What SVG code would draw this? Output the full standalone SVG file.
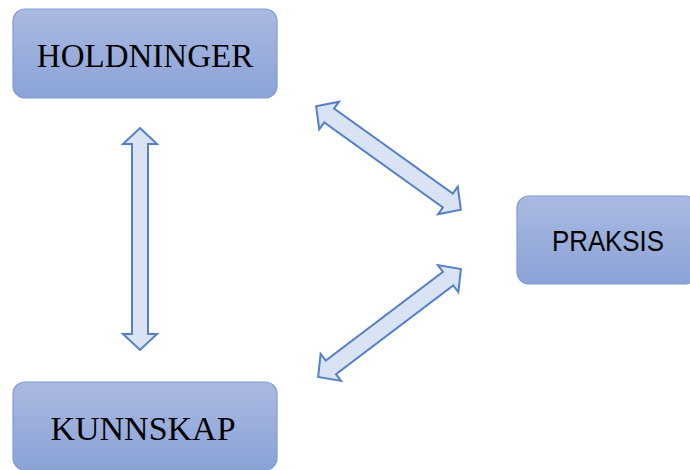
<svg xmlns="http://www.w3.org/2000/svg" xmlns:xlink="http://www.w3.org/1999/xlink" width="690" height="470" viewBox="0 0 690 470">
<style>
.box{fill:url(#g);stroke:#7f9bd4;stroke-width:1.2}
.arrow{fill:#dae3f3;stroke:#5580c8;stroke-width:2;stroke-linejoin:miter}
.serif{font-family:"Liberation Serif","Times New Roman",serif;fill:#000;text-anchor:middle}
.sans{font-family:"Liberation Sans",Arial,sans-serif;fill:#000;text-anchor:middle}
</style>
<defs>
<linearGradient id="g" x1="0" y1="0" x2="0" y2="1">
<stop offset="0" stop-color="#aab9e1"/>
<stop offset="1" stop-color="#8ba3d7"/>
</linearGradient>
</defs>
<rect width="690" height="470" fill="#fff"/>
<g id="connectors">
<path class="arrow" transform="translate(140,239) rotate(90)" d="M-111,0 L-95,-17 L-95,-8 L95,-8 L95,-17 L111,0 L95,17 L95,8 L-95,8 L-95,17 Z"/>
<path class="arrow" transform="translate(388.5,158) rotate(35.6)" d="M-89,0 L-73,-17 L-73,-8.5 L73,-8.5 L73,-17 L89,0 L73,17 L73,8.5 L-73,8.5 L-73,17 Z"/>
<path class="arrow" transform="translate(389.5,323) rotate(-37.1)" d="M-89.5,0 L-73.5,-17 L-73.5,-8.5 L73.5,-8.5 L73.5,-17 L89.5,0 L73.5,17 L73.5,8.5 L-73.5,8.5 L-73.5,17 Z"/>
</g>
<g id="holdninger">
<rect class="box" x="13" y="9" width="264" height="89" rx="12"/>
<text class="serif" x="145" y="67" font-size="33">HOLDNINGER</text>
</g>
<g id="praksis">
<rect class="box" x="517" y="196" width="180" height="88" rx="12"/>
<text class="sans" x="608" y="251" font-size="29.5" textLength="112" lengthAdjust="spacingAndGlyphs">PRAKSIS</text>
</g>
<g id="kunnskap">
<rect class="box" x="13" y="382" width="264" height="88" rx="12"/>
<text class="serif" x="143" y="440" font-size="34">KUNNSKAP</text>
</g>
</svg>
